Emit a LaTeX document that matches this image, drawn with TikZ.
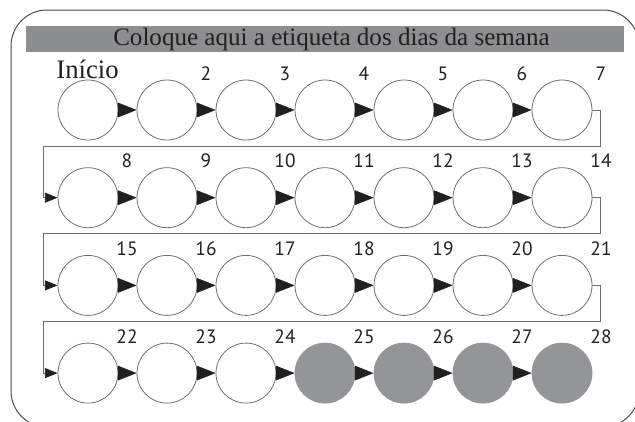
\documentclass[tikz,border=0pt]{standalone}
\usepackage{fontspec}
\setmainfont{Liberation Serif}
\newfontfamily\labfont{PT Sans}
\usetikzlibrary{arrows.meta}
\definecolor{bargray}{HTML}{8D8E90}
\definecolor{dotgray}{HTML}{939598}
\definecolor{ringgray}{HTML}{6D6E71}
\definecolor{framegray}{HTML}{4D4D4F}
\definecolor{tipblack}{HTML}{231F20}
\begin{document}
\begin{tikzpicture}[x=0.75pt,y=-0.75pt,
  day/.style={circle,draw=ringgray,line width=0.6pt,minimum size=45pt,inner sep=0pt},
  shaded/.style={circle,fill=dotgray,draw=dotgray,line width=0.6pt,minimum size=45pt,inner sep=0pt},
  daynum/.style={font=\labfont\fontsize{14.5}{16}\selectfont,anchor=base,text=tipblack,inner sep=0pt},
  link/.style={draw=tipblack,line width=0.4pt,-{Triangle[length=14pt,width=11pt]}},
  wrap/.style={draw=ringgray,line width=0.6pt,-{Triangle[length=9.5pt,width=7.5pt,color=tipblack,fill=tipblack]}}]
\useasboundingbox (0,0) rectangle (635,421);
\clip (0,0) rectangle (635,421);
% frame
\draw[draw=framegray,line width=0.75pt,rounded corners=27pt] (11,10) rectangle (639,427);
% title bar
\fill[bargray] (26,26) rectangle (624,52);
\node[font=\fontsize{18.8}{21}\selectfont,text=tipblack,inner sep=0pt] (title) at (331.5,39) {Coloque aqui a etiqueta dos dias da semana};
\node[font=\fontsize{20}{22}\selectfont,text=tipblack,anchor=base,inner sep=0pt] (inicio) at (87.5,78.5) {Início};
% circles
\foreach \r in {0,...,3}{
  \foreach \c in {0,...,6}{
    \pgfmathtruncatemacro{\n}{7*\r+\c+1}
    \pgfmathsetmacro{\xx}{88+79*\c}
    \pgfmathsetmacro{\yy}{110+87.7*\r}
    \ifnum\n>24
      \node[shaded] (c\n) at (\xx,\yy) {};
    \else
      \node[day] (c\n) at (\xx,\yy) {};
    \fi
    \ifnum\n>1
      \node[daynum] (l\n) at (\xx+39,\yy-30) {\n};
    \fi
  }
}
% links within rows
\foreach \r in {0,...,3}{
  \foreach \c in {1,...,6}{
    \pgfmathtruncatemacro{\a}{7*\r+\c}
    \pgfmathtruncatemacro{\b}{7*\r+\c+1}
    \draw[link] (c\a) -- (c\b);
  }
}
% wrap connectors between rows
\foreach \r in {0,1,2}{
  \pgfmathtruncatemacro{\a}{7*\r+7}
  \pgfmathtruncatemacro{\b}{7*\r+8}
  \pgfmathsetmacro{\yy}{110+87.7*\r+36}
  \coordinate (t\r) at (600,\yy);
  \coordinate (u\r) at (43,\yy);
  \draw[wrap] (c\a.east) -| (t\r) -- (u\r) |- (c\b.west);
}
\end{tikzpicture}
\end{document}
